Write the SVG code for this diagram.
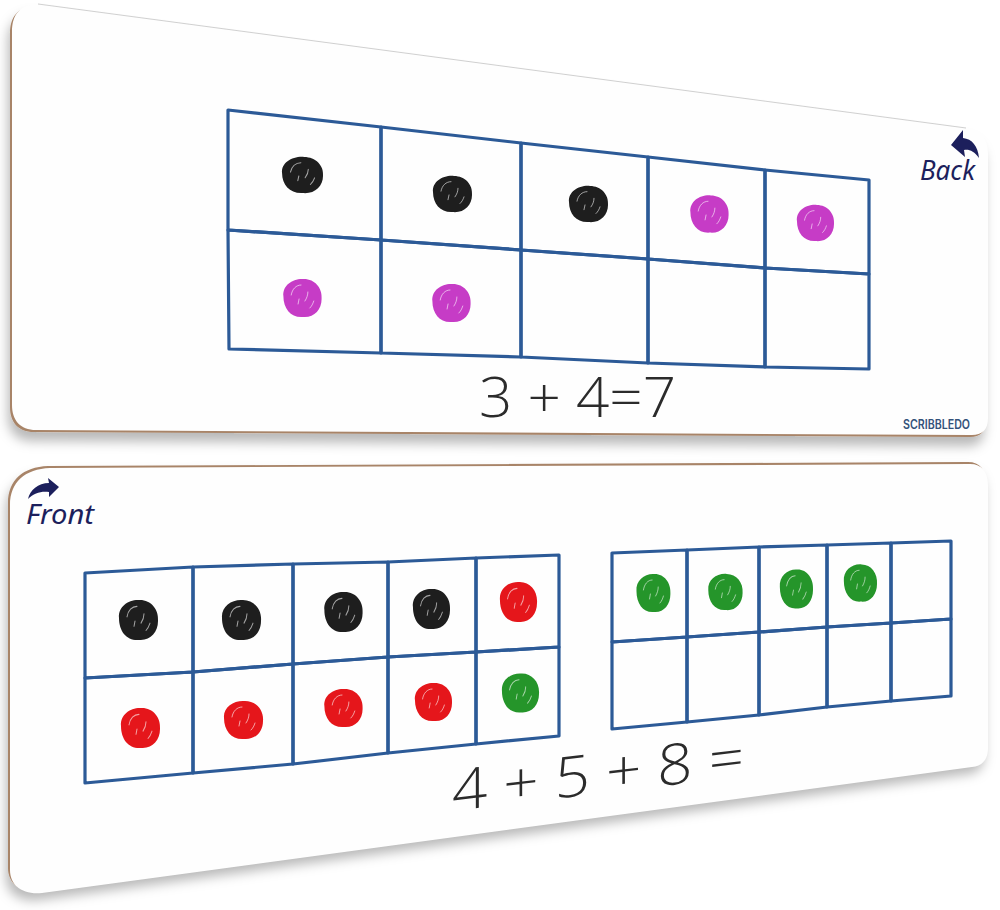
<svg xmlns="http://www.w3.org/2000/svg" width="1000" height="910" viewBox="0 0 1000 910">
<defs>
<filter id="shadow" x="-5%" y="-10%" width="110%" height="130%">
<feDropShadow dx="-2" dy="9" stdDeviation="6" flood-color="#000" flood-opacity="0.28"/>
</filter>
<g id="blob">
<path d="M -19,-2 C -20,-13 -9,-20 2,-19 C 13,-19 21,-10 20,1 C 20,12 12,20 1,19 C -11,20 -19,11 -19,-2 Z" fill="currentColor"/>
<path d="M -11,-3 C -10,-9 -6,-13 -1,-13 M -4,6 L -3,1 M 3,3 C 5,0 6,-3 6,-6 M 8,10 C 10,8 11,6 12,3" fill="none" stroke="#fff" stroke-width="1" stroke-linecap="round" opacity="0.6"/>
</g>
</defs>
<style>
.cell{fill:none;stroke:#2c5a97;stroke-width:3.2;stroke-linejoin:round}
.eq{font-family:"Open Sans","Liberation Sans",sans-serif;font-weight:300;fill:#2b2b2b}
.hand{font-family:"Noto Sans","DejaVu Sans",sans-serif;font-style:italic;fill:#1c1f5c}
.k{color:#1e1e1e}.m{color:#c63cc6}.r{color:#e5161b}.g{color:#25952a}
</style>
<rect width="1000" height="910" fill="#fff"/>

<g id="board-back">
<g filter="url(#shadow)">
<path transform="translate(-2,2)" d="M 12,32 C 12,14 20,5 38,4 L 966,128 C 980,130 988,138 988,154 L 988,418 C 988,430 982,435 972,435 L 36,430 C 20,430 12,420 12,405 Z" fill="#a88468"/>
</g>
<path d="M 12,32 C 12,14 20,5 38,4 L 966,128 C 980,130 988,138 988,154 L 988,418 C 988,430 982,435 972,435 L 36,430 C 20,430 12,420 12,405 Z" fill="#fefefe"/>
<path d="M 38,4 L 966,128" fill="none" stroke="#c4c4c4" stroke-width="0.8"/>
<g id="grid-back">
<path class="cell" d="M228,110 L381,127 L381,240 L228,230 Z"/>
<path class="cell" d="M381,127 L521,143 L521,250 L381,240 Z"/>
<path class="cell" d="M521,143 L648,157 L648,259 L521,250 Z"/>
<path class="cell" d="M648,157 L765,170 L765,268 L648,259 Z"/>
<path class="cell" d="M765,170 L869,180 L869,274 L765,268 Z"/>
<path class="cell" d="M228,230 L381,240 L381,353 L229,349 Z"/>
<path class="cell" d="M381,240 L521,250 L521,357 L381,353 Z"/>
<path class="cell" d="M521,250 L648,259 L648,363 L521,357 Z"/>
<path class="cell" d="M648,259 L765,268 L765,367 L648,363 Z"/>
<path class="cell" d="M765,268 L869,274 L869,369 L765,367 Z"/>
</g>
<g id="dots-back">
<use href="#blob" class="k" transform="translate(302,175) scale(1.05,0.95)"/>
<use href="#blob" class="k" transform="translate(452,194) scale(1.0,0.95)"/>
<use href="#blob" class="k" transform="translate(588,204) scale(1.0,0.95)"/>
<use href="#blob" class="m" transform="translate(709,214) scale(0.98,0.98)"/>
<use href="#blob" class="m" transform="translate(815,223) scale(0.95,0.95)"/>
<use href="#blob" class="m" transform="translate(302,298) scale(0.98,1.0)"/>
<use href="#blob" class="m" transform="translate(451,303) scale(0.98,1.0)"/>
</g>
<text class="eq" x="479" y="417" font-size="56" textLength="197" lengthAdjust="spacingAndGlyphs">3 + 4=7</text>
<path d="M 951,145 L 963,130 L 963,138 C 972,139 978,146 979,158 C 974,151 969,149 964,150 L 965,157 Z" fill="#1c1f5c"/>
<text class="hand" x="920" y="180" font-size="27" textLength="55" lengthAdjust="spacingAndGlyphs">Back</text>
<text x="903" y="429" font-family="Inter,'Liberation Sans',sans-serif" font-weight="600" font-size="12.5" fill="#34527a" textLength="67" lengthAdjust="spacingAndGlyphs">SCRIBBLEDO</text>
</g>

<g id="board-front">
<g filter="url(#shadow)">
<path transform="translate(-2,-2)" d="M 10,505 C 10,482 25,469 50,468 L 970,464 C 982,464 988,472 988,486 L 988,748 C 988,760 982,766 972,767 L 42,893 C 22,895 10,885 10,870 Z" fill="#a88468"/>
</g>
<path d="M 10,505 C 10,482 25,469 50,468 L 970,464 C 982,464 988,472 988,486 L 988,748 C 988,760 982,766 972,767 L 42,893 C 22,895 10,885 10,870 Z" fill="#fefefe"/>
<g id="grid-left">
<path class="cell" d="M85,573 L193,567 L193,672 L85,678 Z"/>
<path class="cell" d="M193,567 L293,564 L293,664 L193,672 Z"/>
<path class="cell" d="M293,564 L388,562 L388,657 L293,664 Z"/>
<path class="cell" d="M388,562 L476,558 L476,652 L388,657 Z"/>
<path class="cell" d="M476,558 L559,555 L559,647 L476,652 Z"/>
<path class="cell" d="M85,678 L193,672 L193,773 L85,783 Z"/>
<path class="cell" d="M193,672 L293,664 L293,764 L193,773 Z"/>
<path class="cell" d="M293,664 L388,657 L388,753 L293,764 Z"/>
<path class="cell" d="M388,657 L476,652 L476,744 L388,753 Z"/>
<path class="cell" d="M476,652 L559,647 L559,736 L476,744 Z"/>
</g>
<g id="grid-right">
<path class="cell" d="M612,553 L687,550 L687,637 L612,642 Z"/>
<path class="cell" d="M687,550 L759,547 L759,632 L687,637 Z"/>
<path class="cell" d="M759,547 L827,545 L827,627 L759,632 Z"/>
<path class="cell" d="M827,545 L891,543 L891,623 L827,627 Z"/>
<path class="cell" d="M891,543 L951,541 L951,619 L891,623 Z"/>
<path class="cell" d="M612,642 L687,637 L687,722 L612,729 Z"/>
<path class="cell" d="M687,637 L759,632 L759,715 L687,722 Z"/>
<path class="cell" d="M759,632 L827,627 L827,707 L759,715 Z"/>
<path class="cell" d="M827,627 L891,623 L891,701 L827,707 Z"/>
<path class="cell" d="M891,623 L951,619 L951,696 L891,701 Z"/>
</g>
<g id="dots-front">
<use href="#blob" class="k" transform="translate(138,620) scale(1.0,1.05)"/>
<use href="#blob" class="k" transform="translate(241,620) scale(1.0,1.05)"/>
<use href="#blob" class="k" transform="translate(343,612) scale(0.98,1.05)"/>
<use href="#blob" class="k" transform="translate(431,609) scale(0.95,1.05)"/>
<use href="#blob" class="r" transform="translate(518,602) scale(0.95,1.05)"/>
<use href="#blob" class="r" transform="translate(140,728) scale(1.0,1.05)"/>
<use href="#blob" class="r" transform="translate(243,720) scale(1.0,1.0)"/>
<use href="#blob" class="r" transform="translate(343,708) scale(0.98,1.0)"/>
<use href="#blob" class="r" transform="translate(433,702) scale(0.95,1.0)"/>
<use href="#blob" class="g" transform="translate(520,693) scale(0.95,1.02)"/>
<use href="#blob" class="g" transform="translate(653,593) scale(0.87,1.0)"/>
<use href="#blob" class="g" transform="translate(725,592) scale(0.88,0.95)"/>
<use href="#blob" class="g" transform="translate(796,589) scale(0.85,1.02)"/>
<use href="#blob" class="g" transform="translate(860,583) scale(0.85,0.98)"/>
</g>
<text class="eq" transform="translate(452,811) skewY(-6.8)" x="0" y="0" font-size="57" textLength="292" lengthAdjust="spacingAndGlyphs">4 + 5 + 8 =</text>
<path d="M 59,487 L 48,478 L 49,483 C 38,483 30,490 28,499 C 34,493 41,491 49,492 L 49,497 Z" fill="#1c1f5c"/>
<text class="hand" x="26" y="524" font-size="27" textLength="68" lengthAdjust="spacingAndGlyphs">Front</text>
</g>
</svg>
